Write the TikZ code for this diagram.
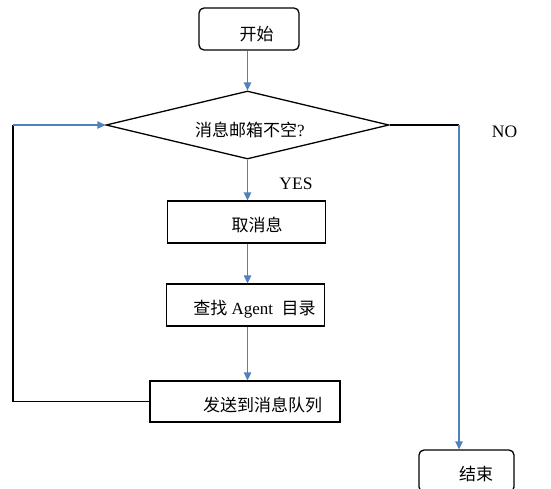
\documentclass[tikz,border=0pt]{standalone}
\usepackage{fontspec}
\setmainfont{Liberation Serif}
\newfontfamily\cjk{Noto Sans CJK SC}
\usetikzlibrary{arrows.meta,shapes.geometric}
\definecolor{flowblue}{HTML}{4F81BD}
\begin{document}
\begin{tikzpicture}[x=1pt,y=-1pt,
  box/.style={draw=black,line width=1.3pt,inner sep=0pt},
  rbox/.style={box,rounded corners=5pt},
  lbl/.style={inner sep=0pt,font=\fontsize{17}{19}\selectfont\cjk,text height=15pt,text depth=2pt},
  lat/.style={inner sep=0pt,font=\fontsize{17.5}{19}\selectfont,text height=12.3pt,text depth=0.8pt},
  flow/.style={draw=flowblue,line width=1.3pt,-{Triangle[length=8pt,width=7.5pt]}},
  plain/.style={draw=black,line width=1.3pt}]
\useasboundingbox[fill=white] (0,0) rectangle (551,488);
% boxes
\node[rbox,minimum width=100pt,minimum height=42pt] (start) at (249,29) {};
\node[box,diamond,aspect=4.16,minimum width=283pt,minimum height=68pt] (dec) at (247.5,125) {};
\node[box,minimum width=158pt,minimum height=42pt] (get) at (246.5,222) {};
\node[box,minimum width=158pt,minimum height=42pt] (find) at (245.5,305) {};
\node[box,minimum width=190pt,minimum height=41pt] (send) at (245,401.5) {};
\node[rbox,minimum width=95pt,minimum height=42pt] (end) at (466.5,471) {};
% texts
\node[lbl] (tstart) at (256.5,34) {开始};
\node[lbl] (tdec) at (250,130) {消息邮箱不空{\rmfamily ?}};
\node[lat] (yes) at (296,183.5) {YES};
\node[lat] (no) at (504.5,131.5) {NO};
\node[lbl] (tget) at (257,225) {取消息};
\node[lbl] (tfind) at (254.5,308) {查找{\rmfamily\ Agent\ \ }目录};
\node[lbl] (tsend) at (262.5,405) {发送到消息队列};
\node[lbl] (tend) at (476,474) {结束};
% connectors
\coordinate (ncorner) at (459,125);
\coordinate (lb) at (13,401.5);
\coordinate (lt) at (13,125);
\draw[flow] (start.south -| dec.north) -- (dec.north);
\draw[flow] (dec.south) -- (dec.south |- get.north);
\draw[flow] (dec.south |- get.south) -- (dec.south |- find.north);
\draw[flow] (dec.south |- find.south) -- (dec.south |- send.north);
\draw[plain] (dec.east) -- (ncorner);
\draw[flow] (ncorner) -- (ncorner |- end.north);
\draw[plain] (send.west) -- (lb) -- (lt);
\draw[flow] (lt) -- (dec.west);
\end{tikzpicture}
\end{document}
